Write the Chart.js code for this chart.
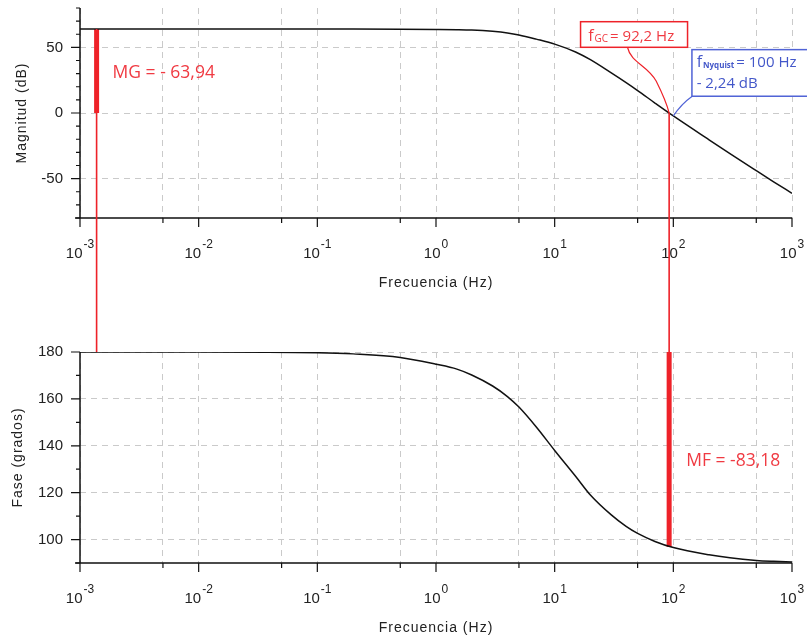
<!DOCTYPE html>
<html>
<head>
<meta charset="utf-8">
<script src="https://cdn.jsdelivr.net/npm/chart.js@4/dist/chart.umd.min.js"></script>
<style>
  body { margin: 0; background: #fff; }
  #wrap { position: relative; width: 807px; height: 637px; }
  canvas { position: absolute; left: 0; top: 0; }
</style>
</head>
<body>
<div id="wrap">
  <canvas id="mag" width="807" height="637"></canvas>
  <canvas id="fase" width="807" height="637"></canvas>
</div>
<script>
const freqs    = [0.001, 0.01, 0.1, 0.2, 0.5, 1, 1.5, 2, 3, 4, 5, 7, 10, 15, 20, 30, 40, 50, 70, 100, 200, 300, 500, 700, 1000];
const magnitud = [63.94, 63.94, 63.94, 63.94, 63.9, 63.7, 63.5, 63.2, 62.2, 61, 59.5, 56.3, 52.5, 46.5, 40.6, 30.5, 23.1, 17.1, 7.6, -2.24, -20.4, -30.9, -43.9, -52.4, -61.2];
const fase     = [180, 180, 179.7, 179.2, 177.7, 174.8, 172.7, 170.2, 165.5, 161, 156.5, 148, 138, 127, 119, 110.5, 105.6, 102.6, 99.2, 96.6, 93.5, 92.2, 91.1, 90.7, 90.4];

// margenes
const mgFreq = 0.00138, mgValor = 63.94;
const fGC = 92.2, mfValor = 96.82;
const fNyq = 100, nyqDb = -2.24;

// ejes
const xMajor = [0.001, 0.01, 0.1, 1, 10, 100, 1000];
const xMinor = [0.005, 0.05, 0.5, 5, 50, 500];
const xExp = ['-3', '-2', '-1', '0', '1', '2', '3'];
const magMajor = [-50, 0, 50];
const magMinor = [-80, -70, -60, -40, -30, -20, -10, 10, 20, 30, 40, 60, 70, 80];
const faseMajor = [100, 120, 140, 160, 180];
const faseMinor = [90, 110, 130, 150, 170];

const FONT = '"Liberation Sans", Arial, sans-serif';
const ANOT = '"Open Sans", sans-serif';
const ROJO = '#ee2229';
const ROJO_TXT = '#f03a42';
const AZUL = '#5063d6';
const AZUL_TXT = '#4357c9';

const ejes = {
  id: 'ejes',
  afterDraw(chart, args, o) {
    const { ctx, chartArea: a, scales: { x, y } } = chart;
    ctx.save();
    ctx.strokeStyle = '#111';
    ctx.lineWidth = 1.5;
    ctx.beginPath();
    ctx.moveTo(a.left, a.top); ctx.lineTo(a.left, a.bottom);
    ctx.moveTo(a.left - 5, a.bottom); ctx.lineTo(a.right, a.bottom);
    ctx.stroke();
    ctx.lineWidth = 1.2;
    ctx.beginPath();
    o.yMajor.forEach(v => { const p = y.getPixelForValue(v); ctx.moveTo(a.left - 9, p); ctx.lineTo(a.left, p); });
    o.yMinor.forEach(v => { const p = y.getPixelForValue(v); ctx.moveTo(a.left - 4, p); ctx.lineTo(a.left, p); });
    xMajor.forEach(v => { const p = x.getPixelForValue(v); ctx.moveTo(p, a.bottom); ctx.lineTo(p, a.bottom + 9); });
    xMinor.forEach(v => { const p = x.getPixelForValue(v); ctx.moveTo(p, a.bottom); ctx.lineTo(p, a.bottom + 5); });
    ctx.stroke();

    // etiquetas 10^n
    ctx.fillStyle = '#222';
    ctx.textAlign = 'left';
    ctx.textBaseline = 'alphabetic';
    xMajor.forEach((v, i) => {
      const p = x.getPixelForValue(v);
      ctx.font = '15px ' + FONT;
      const w1 = ctx.measureText('10').width;
      ctx.font = '12px ' + FONT;
      const w2 = ctx.measureText(xExp[i]).width;
      const x0 = p - (w1 + w2 + 1) / 2;
      ctx.font = '15px ' + FONT;
      ctx.fillText('10', x0, a.bottom + 40);
      ctx.font = '12px ' + FONT;
      ctx.fillText(xExp[i], x0 + w1 + 1, a.bottom + 30);
    });

    // titulos
    ctx.font = '14px ' + FONT;
    ctx.letterSpacing = '1px';
    ctx.fillStyle = '#222';
    ctx.textAlign = 'center';
    ctx.textBaseline = 'middle';
    ctx.fillText('Frecuencia (Hz)', (a.left + a.right) / 2, a.bottom + 65);
    ctx.translate(o.yTitleX, (a.top + a.bottom) / 2);
    ctx.rotate(-Math.PI / 2);
    ctx.fillText(o.yTitle, 0, 0);
    ctx.restore();
  }
};

function caja(ctx, x, y, w, h, color) {
  ctx.fillStyle = '#fff';
  ctx.fillRect(x, y, w, h);
  ctx.strokeStyle = color;
  ctx.lineWidth = 1.5;
  ctx.strokeRect(x, y, w, h);
}

const anotMag = {
  id: 'anotMag',
  afterDatasetsDraw(chart) {
    const { ctx, scales: { x, y } } = chart;
    ctx.save();
    ctx.textAlign = 'left';
    ctx.textBaseline = 'alphabetic';
    ctx.fillStyle = ROJO_TXT;
    ctx.font = '17.5px ' + ANOT;
    ctx.fillText('MG = - 63,94', x.getPixelForValue(mgFreq) + 16, y.getPixelForValue(27));

    // cuadro f_GC
    const gx = x.getPixelForValue(fGC), gy = y.getPixelForValue(0);
    ctx.strokeStyle = ROJO;
    ctx.lineWidth = 1.2;
    ctx.beginPath();
    ctx.moveTo(gx - 41.6, gy - 65.5);
    ctx.bezierCurveTo(gx - 38, gy - 50, gx - 22, gy - 48, gx - 13, gy - 32);
    ctx.bezierCurveTo(gx - 7, gy - 20, gx - 2, gy - 8, gx, gy);
    ctx.stroke();
    caja(ctx, gx - 88.6, gy - 91.3, 107, 25.6, ROJO);
    ctx.fillStyle = ROJO_TXT;
    let tx = gx - 81, ty = gy - 72.3;
    ctx.font = '16px ' + ANOT;
    ctx.fillText('f', tx, ty);
    tx += ctx.measureText('f').width + 1;
    ctx.font = '10px ' + ANOT;
    ctx.fillText('GC', tx, ty + 1);
    tx += ctx.measureText('GC').width + 2;
    ctx.font = '15px ' + ANOT;
    ctx.fillText('= 92,2 Hz', tx, ty);

    // cuadro f_Nyquist
    const nx = x.getPixelForValue(fNyq), ny = y.getPixelForValue(nyqDb);
    ctx.strokeStyle = AZUL;
    ctx.lineWidth = 1.2;
    ctx.beginPath();
    ctx.moveTo(nx + 18.9, ny - 19.7);
    ctx.quadraticCurveTo(nx + 8, ny - 12, nx, ny);
    ctx.stroke();
    caja(ctx, nx + 18.6, ny - 66.3, 140, 46.6, AZUL);
    ctx.fillStyle = AZUL_TXT;
    tx = nx + 23.3; ty = ny - 48.7;
    ctx.font = '16px ' + ANOT;
    ctx.fillText('f', tx, ty);
    tx += ctx.measureText('f').width + 1;
    ctx.font = 'bold 8px ' + ANOT;
    ctx.fillText('Nyquist', tx, ty + 1);
    tx += ctx.measureText('Nyquist').width + 2;
    ctx.font = '15px ' + ANOT;
    ctx.fillText('= 100 Hz', tx, ty);
    ctx.fillText('- 2,24 dB', nx + 23.3, ny - 27.7);
    ctx.restore();
  }
};

const cruces = {
  id: 'cruces',
  afterDraw(chart) {
    const { ctx, scales: { x, y } } = chart;
    const top = magChart.scales.y;
    ctx.save();
    ctx.strokeStyle = ROJO;
    ctx.lineWidth = 1.6;
    ctx.beginPath();
    const p1 = x.getPixelForValue(mgFreq);
    ctx.moveTo(p1, top.getPixelForValue(mgValor));
    ctx.lineTo(p1, y.getPixelForValue(180));
    const p2 = x.getPixelForValue(fGC);
    ctx.moveTo(p2, top.getPixelForValue(0));
    ctx.lineTo(p2, y.getPixelForValue(180));
    ctx.stroke();
    ctx.fillStyle = ROJO_TXT;
    ctx.font = '17.5px ' + ANOT;
    ctx.textAlign = 'left';
    ctx.textBaseline = 'alphabetic';
    ctx.fillText('MF = -83,18', p2 + 17, y.getPixelForValue(131.5));
    ctx.restore();
  }
};

function escalas(yMin, yMax, yTicks) {
  return {
    x: {
      type: 'logarithmic',
      min: 0.001,
      max: 1000,
      afterBuildTicks: s => { s.ticks = xMajor.concat(xMinor).sort((a, b) => a - b).map(v => ({ value: v })); },
      afterFit: s => { s.height = 60; s.paddingLeft = 0; s.paddingRight = 0; },
      ticks: { display: false },
      grid: { color: '#cacaca', lineWidth: 1, drawTicks: false },
      border: { display: false, dash: [6, 5] }
    },
    y: {
      min: yMin,
      max: yMax,
      afterBuildTicks: s => { s.ticks = yTicks.map(v => ({ value: v })); },
      afterFit: s => { s.width = 80; s.paddingTop = 0; s.paddingBottom = 0; },
      ticks: { color: '#222', padding: 17, font: { family: FONT, size: 15 } },
      grid: { color: '#cacaca', lineWidth: 1, drawTicks: false },
      border: { display: false, dash: [6, 5] }
    }
  };
}

const magChart = new Chart(document.getElementById('mag'), {
  type: 'line',
  data: {
    datasets: [
      {
        data: freqs.map((f, i) => ({ x: f, y: magnitud[i] })),
        borderColor: '#111', borderWidth: 1.5, pointRadius: 0,
        cubicInterpolationMode: 'monotone'
      },
      {
        data: [{ x: mgFreq, y: 0 }, { x: mgFreq, y: mgValor }],
        borderColor: ROJO, borderWidth: 5, pointRadius: 0, borderCapStyle: 'butt'
      }
    ]
  },
  options: {
    responsive: false,
    animation: false,
    layout: { padding: { left: 0, right: 15, top: 8, bottom: 359 } },
    scales: escalas(-80, 80, magMajor),
    plugins: {
      legend: { display: false },
      tooltip: { enabled: false },
      ejes: { yMajor: magMajor, yMinor: magMinor, yTitle: 'Magnitud (dB)', yTitleX: 22 }
    }
  },
  plugins: [anotMag, ejes]
});

const faseChart = new Chart(document.getElementById('fase'), {
  type: 'line',
  data: {
    datasets: [
      {
        data: freqs.map((f, i) => ({ x: f, y: fase[i] })),
        borderColor: '#111', borderWidth: 1.5, pointRadius: 0,
        cubicInterpolationMode: 'monotone'
      },
      {
        data: [{ x: fGC, y: 180 }, { x: fGC, y: mfValor }],
        borderColor: ROJO, borderWidth: 5, pointRadius: 0, borderCapStyle: 'butt'
      }
    ]
  },
  options: {
    responsive: false,
    animation: false,
    layout: { padding: { left: 0, right: 15, top: 352, bottom: 14 } },
    scales: escalas(90, 180, faseMajor),
    plugins: {
      legend: { display: false },
      tooltip: { enabled: false },
      ejes: { yMajor: faseMajor, yMinor: faseMinor, yTitle: 'Fase (grados)', yTitleX: 18 }
    }
  },
  plugins: [ejes, cruces]
});
</script>
</body>
</html>
